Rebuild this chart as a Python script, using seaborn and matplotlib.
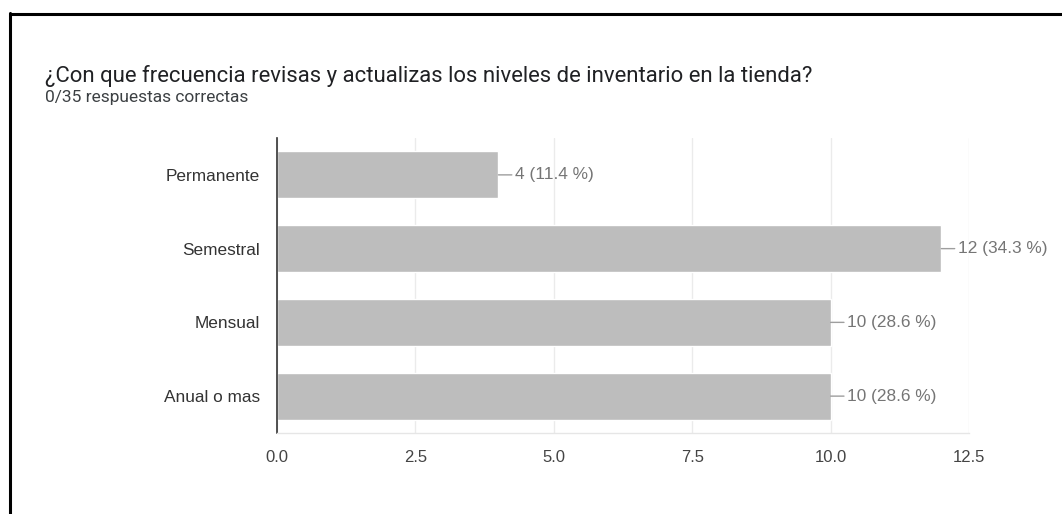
import matplotlib
matplotlib.use("Agg")
import matplotlib.pyplot as plt
from matplotlib.lines import Line2D
import seaborn as sns
import pandas as pd

categories = ["Permanente", "Semestral", "Mensual", "Anual o mas"]
counts = [4, 12, 10, 10]
percents = [11.4, 34.3, 28.6, 28.6]
x_ticks = [0.0, 2.5, 5.0, 7.5, 10.0, 12.5]
title = "¿Con que frecuencia revisas y actualizas los niveles de inventario en la tienda?"
subtitle = "0/35 respuestas correctas"

df = pd.DataFrame({"categoria": categories, "cantidad": counts})

sns.set_theme(style="white")
plt.rcParams["font.family"] = ["Liberation Sans", "DejaVu Sans"]

fig = plt.figure(figsize=(10.62, 5.14), dpi=100)
ax = fig.add_axes([277 / 1062, 1 - 433 / 514, (969 - 277) / 1062, (433 - 138) / 514])

sns.barplot(data=df, x="cantidad", y="categoria", orient="h", color="#bdbdbd",
            saturation=1, width=0.64, ax=ax, zorder=2)

ax.set_xlim(0, 12.5)
ax.set_ylim(3.5, -0.5)
ax.set_xticks(x_ticks)
ax.set_xticklabels([f"{t:.1f}" for t in x_ticks])
ax.set_xlabel("")
ax.set_ylabel("")
ax.grid(axis="x", color="#ebebeb", linewidth=1.0, zorder=0)
ax.set_axisbelow(True)
ax.tick_params(axis="x", length=0, pad=12, labelsize=12, labelcolor="#444444")
ax.tick_params(axis="y", length=0, pad=12, labelsize=12.4, labelcolor="#333333")

for s in ["top", "right"]:
    ax.spines[s].set_visible(False)
ax.spines["left"].set_color("#333333")
ax.spines["left"].set_linewidth(1.2)
ax.spines["bottom"].set_color("#e6e6e6")
ax.spines["bottom"].set_linewidth(1.0)

for i, (c, p) in enumerate(zip(counts, percents)):
    ax.annotate(f"{c} ({p} %)", xy=(c, i), xytext=(12, 0), textcoords="offset points",
                ha="left", va="center", fontsize=12.4, color="#757575",
                arrowprops=dict(arrowstyle="-", color="#9e9e9e", lw=1.0,
                                shrinkA=0, shrinkB=0))

fig.text(45 / 1062, 1 - 82 / 514, title, fontsize=15.9, color="#202124",
         family=["Roboto", "DejaVu Sans"], ha="left", va="baseline")
fig.text(45 / 1062, 1 - 102 / 514, subtitle, fontsize=12.5, color="#3c4043",
         family=["Roboto", "DejaVu Sans"], ha="left", va="baseline")

# frame lines (top and left)
fig.add_artist(Line2D([9.5 / 1062, 1.0], [1 - 13.5 / 514, 1 - 13.5 / 514],
                      transform=fig.transFigure, color="black", linewidth=2.2))
fig.add_artist(Line2D([9.5 / 1062, 9.5 / 1062], [1 - 12.5 / 514, 0.0],
                      transform=fig.transFigure, color="black", linewidth=2.2))

fig.savefig("out.png", dpi=100, facecolor="white")
